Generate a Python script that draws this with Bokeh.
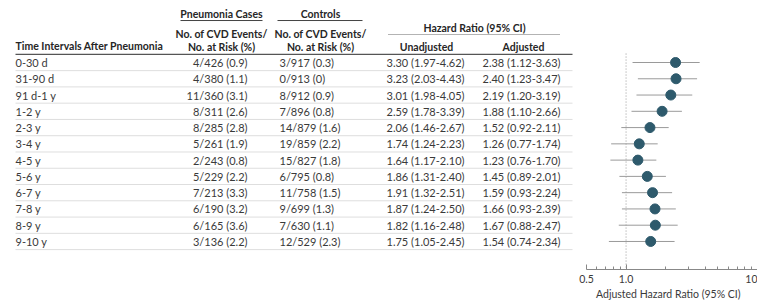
import math
from bokeh.plotting import figure
from bokeh.models import (Range1d, FixedTicker, CustomJSTickFormatter, ColumnDataSource,
                          LogScale, LogAxis, Title)
from bokeh.core.properties import value
from bokeh.embed import file_html
from bokeh.resources import INLINE

intervals = ["0-30 d", "31-90 d", "91 d-1 y", "1-2 y", "2-3 y", "3-4 y", "4-5 y",
             "5-6 y", "6-7 y", "7-8 y", "8-9 y", "9-10 y"]
case_events = [4, 4, 11, 8, 8, 5, 2, 5, 7, 6, 6, 3]
case_risk = [426, 380, 360, 311, 285, 261, 243, 229, 213, 190, 165, 136]
case_pct = ["0.9", "1.1", "3.1", "2.6", "2.8", "1.9", "0.8", "2.2", "3.3", "3.2", "3.6", "2.2"]
ctrl_events = [3, 0, 8, 7, 14, 19, 15, 6, 11, 9, 7, 12]
ctrl_risk = [917, 913, 912, 896, 879, 859, 827, 795, 758, 699, 630, 529]
ctrl_pct = ["0.3", "0", "0.9", "0.8", "1.6", "2.2", "1.8", "0.8", "1.5", "1.3", "1.1", "2.3"]
unadj_hr = [3.30, 3.23, 3.01, 2.59, 2.06, 1.74, 1.64, 1.86, 1.91, 1.87, 1.82, 1.75]
unadj_lo = [1.97, 2.03, 1.98, 1.78, 1.46, 1.24, 1.17, 1.31, 1.32, 1.24, 1.16, 1.05]
unadj_hi = [4.62, 4.43, 4.05, 3.39, 2.67, 2.23, 2.10, 2.40, 2.51, 2.50, 2.48, 2.45]
adj_hr = [2.38, 2.40, 2.19, 1.88, 1.52, 1.26, 1.23, 1.45, 1.59, 1.66, 1.67, 1.54]
adj_lo = [1.12, 1.23, 1.20, 1.10, 0.92, 0.77, 0.76, 0.89, 0.93, 0.93, 0.88, 0.74]
adj_hi = [3.63, 3.47, 3.19, 2.66, 2.11, 1.74, 1.70, 2.01, 2.24, 2.39, 2.47, 2.34]
x_ticks = [0.5, 1, 10]
x_minor = [0.6, 0.7, 0.8, 0.9, 2, 3, 4, 5, 6, 7, 8, 9]

FONT = value("Lato")
TXT = "#3a3a3a"
HDR = "#262626"
n = len(intervals)
ys = [-i for i in range(n)]

src = ColumnDataSource(dict(
    y=ys,
    interval=intervals,
    cases=[f"{e}/{r} ({p})" for e, r, p in zip(case_events, case_risk, case_pct)],
    ctrls=[f"{e}/{r} ({p})" for e, r, p in zip(ctrl_events, ctrl_risk, ctrl_pct)],
    unadj=[f"{h:.2f} ({l:.2f}-{u:.2f})" for h, l, u in zip(unadj_hr, unadj_lo, unadj_hi)],
    adj=[f"{h:.2f} ({l:.2f}-{u:.2f})" for h, l, u in zip(adj_hr, adj_lo, adj_hi)],
    hr=adj_hr, lo=adj_lo, hi=adj_hi,
))

W, H = 757, 304
BOTTOM = 35          # frame bottom (axis line) at y = 269
ROW = 16.27          # pixels per table row
Y_TOP = 62 / ROW
Y_BOT = -(H - BOTTOM - 62) / ROW
# log scale for the forest: 0.5 at x = 586, 10 at the frame's right edge
px_dec = (W - 586) / (1 - math.log10(0.5))
hr_start = 10 ** (1 - W / px_dec)

p = figure(width=W, height=H, x_range=Range1d(0, W), y_range=Range1d(Y_BOT, Y_TOP),
           extra_x_ranges={"hr": Range1d(hr_start, 10)}, extra_x_scales={"hr": LogScale()},
           output_backend="svg", toolbar_location=None,
           min_border_left=0, min_border_right=0, min_border_top=0, min_border_bottom=BOTTOM,
           x_axis_location=None, y_axis_location=None)
p.grid.visible = False
p.outline_line_color = None

# row separators
seps = [-(i + 0.5) for i in range(n)]
p.segment(x0=15, x1=572, y0=seps, y1=seps, line_color="#dedede", line_width=1)
# header rule
p.segment(x0=[15], x1=[572], y0=[0.5], y1=[0.5], line_color="#555555", line_width=1.3)

common = dict(text_font=FONT, text_font_size="11px", text_baseline="middle", text_color=TXT)
p.text(x=15, y="y", text="interval", source=src, text_align="left", **common)
p.text(x=247, y="y", text="cases", source=src, text_align="right", **common)
p.text(x=279, y="y", text="ctrls", source=src, text_align="left", **common)
p.text(x=425, y="y", text="unadj", source=src, text_align="center", **common)
p.text(x=521, y="y", text="adj", source=src, text_align="center", **common)

hcommon = dict(text_font=FONT, text_font_size="10.5px", text_baseline="middle",
               text_color=HDR, text_font_style="bold")
p.text(x=[15], y=[1.0], text=["Time Intervals After Pneumonia"], text_align="left", **hcommon)
p.text(x=[221, 320], y=[3.01, 3.01], text=["Pneumonia Cases", "Controls"],
       text_align="center", **hcommon)
p.segment(x0=[180, 277], x1=[262, 362], y0=[2.58, 2.58], y1=[2.58, 2.58],
          line_color="#444444", line_width=1)
p.text(x=[221, 320], y=[1.78, 1.78], text=["No. of CVD Events/", "No. of CVD Events/"],
       text_align="center", **hcommon)
p.text(x=[221, 320], y=[0.98, 0.98], text=["No. at Risk (%)", "No. at Risk (%)"],
       text_align="center", **hcommon)
p.text(x=[474], y=[2.15], text=["Hazard Ratio (95% CI)"], text_align="center", **hcommon)
p.segment(x0=[388], x1=[560], y0=[1.72], y1=[1.72], line_color="#666666", line_width=1,
          line_dash="1 1")
p.text(x=[426, 523], y=[0.98, 0.98], text=["Unadjusted", "Adjusted"], text_align="center",
       **hcommon)

# ---------------- forest ----------------
p.segment(x0=[1], x1=[1], y0=[0.55], y1=[Y_BOT], line_color="#999999", line_width=1,
          line_dash="1 2", x_range_name="hr")
p.segment(x0="lo", x1="hi", y0="y", y1="y", source=src, line_color="#9a9a9a", line_width=1,
          x_range_name="hr")
p.scatter(x="hr", y="y", source=src, size=10, fill_color="#2e5a6c", line_color="#2e5a6c",
          x_range_name="hr")

ax = LogAxis(x_range_name="hr", bounds=(0.5, 10))
ax.ticker = FixedTicker(ticks=x_ticks, minor_ticks=x_minor)
ax.formatter = CustomJSTickFormatter(code="return tick == 1 ? '1.0' : tick.toString();")
ax.major_tick_in = 5
ax.major_tick_out = 0
ax.minor_tick_in = 3
ax.minor_tick_out = 0
ax.axis_line_color = "#888888"
ax.major_tick_line_color = "#888888"
ax.minor_tick_line_color = "#888888"
ax.major_label_text_font = "Lato"
ax.major_label_text_font_size = "10.5px"
ax.major_label_text_color = TXT
ax.major_label_standoff = 5
p.add_layout(ax, "below")

xt = Title(text="Adjusted Hazard Ratio (95% CI)", align="right", offset=17, standoff=0,
           text_font="Lato", text_font_size="10.5px", text_font_style="normal",
           text_color=TXT)
p.add_layout(xt, "below")

open("out.html", "w").write(file_html(p, INLINE))
